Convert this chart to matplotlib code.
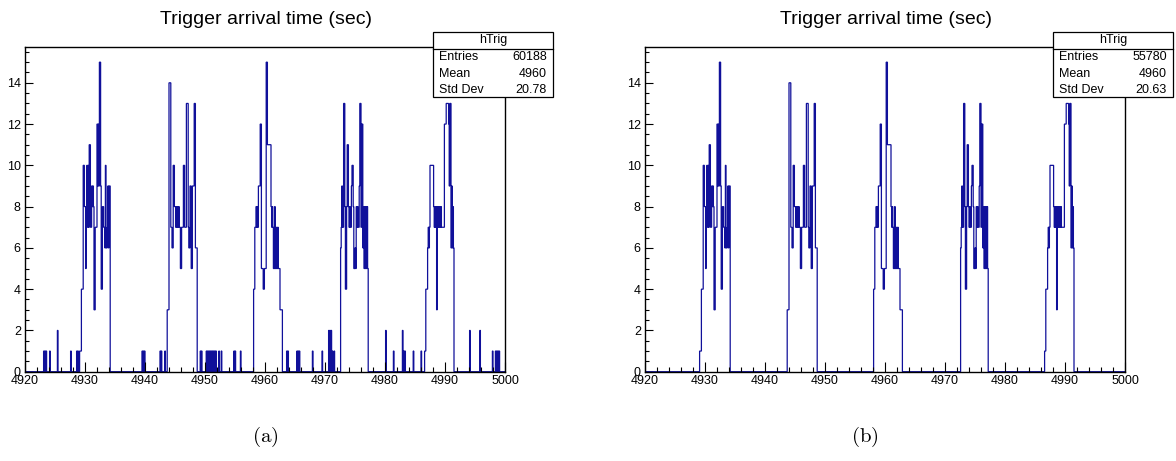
import numpy as np
import matplotlib
matplotlib.use("Agg")
import matplotlib.pyplot as plt
from matplotlib.patches import Rectangle
from matplotlib.ticker import MultipleLocator

plt.rcParams['font.family'] = ['Liberation Sans', 'DejaVu Sans']
plt.rcParams['mathtext.fontset'] = 'cm'

# -------------------------------------------------------------------------
# Histogram data (0.1 s bins between 4920 and 5000)
# -------------------------------------------------------------------------
x_min, x_max, bin_w = 4920, 5000, 0.1

cluster_starts = [4929.1, 4943.7, 4958.1, 4972.6, 4986.6]
cluster1 = [1, 1, 1, 4, 4, 4, 10, 10, 8, 8, 5, 8, 10, 7, 10, 7, 11, 11, 7, 7, 9, 8, 9, 8, 3, 3,
            7, 7, 7, 12, 9, 12, 9, 15, 15, 9, 4, 4, 8, 8, 7, 7, 6, 10, 6, 6, 7, 9, 6, 9, 9]
cluster2 = [3, 3, 3, 14, 14, 14, 7, 7, 6, 6, 10, 10, 8, 8, 7, 8, 7, 8, 7, 8, 7, 7, 5, 5, 7, 7,
            7, 10, 10, 7, 7, 7, 13, 13, 13, 7, 6, 6, 9, 9, 5, 5, 9, 9, 9, 13, 13, 6, 6, 6]
cluster3 = [4, 4, 7, 7, 8, 7, 8, 7, 9, 9, 9, 12, 12, 5, 5, 5, 4, 4, 5, 5, 5, 15, 15, 11, 11, 11,
            11, 11, 11, 8, 7, 8, 7, 5, 5, 8, 5, 7, 5, 5, 7, 5, 5, 5, 3, 3, 3, 3]
cluster4 = [6, 7, 9, 7, 7, 13, 13, 8, 4, 4, 8, 11, 11, 8, 7, 8, 7, 7, 9, 10, 10, 8, 5, 5, 6, 5,
            8, 7, 8, 7, 7, 9, 13, 13, 7, 12, 12, 6, 8, 5, 8, 5, 8, 5, 8, 5]
cluster5 = [1, 1, 4, 4, 4, 6, 7, 6, 7, 10, 10, 10, 10, 10, 10, 8, 7, 8, 7, 8, 3, 8, 7, 8, 7, 8,
            7, 8, 7, 7, 7, 7, 7, 12, 12, 12, 13, 13, 13, 13, 12, 9, 13, 13, 6, 9, 6, 8, 6]
clusters = [cluster1, cluster2, cluster3, cluster4, cluster5]

# sparse background triggers, only in (a)
noise_t = [4923.1, 4923.3, 4923.5, 4924.1, 4925.4, 4927.6, 4928.6, 4928.8,
           4939.5, 4939.7, 4939.9, 4942.5, 4942.7, 4943.3,
           4949.2, 4949.4, 4950.2, 4950.4, 4950.6, 4950.7, 4950.9, 4951.1, 4951.2, 4951.4,
           4951.6, 4951.8, 4952.3, 4952.7, 4954.8, 4955.0, 4955.9,
           4963.6, 4963.8, 4965.3, 4965.5, 4965.7, 4967.9, 4969.5, 4970.6, 4970.8, 4971.0,
           4971.2, 4971.5,
           4980.1, 4981.4, 4982.9, 4983.1, 4983.3, 4984.7, 4986.0,
           4994.1, 4995.8, 4997.9, 4998.4, 4998.6, 4998.8, 4999.0]
noise_n = [1, 1, 1, 1, 2, 1, 1, 1,
           1, 1, 1, 1, 1, 1,
           1, 1, 1, 1, 1, 1, 1, 1, 1, 1, 1, 1, 1, 1, 1, 1, 1,
           1, 1, 1, 1, 1, 1, 1, 2, 2, 2, 1, 1,
           2, 1, 2, 1, 1, 1, 1,
           2, 2, 1, 1, 1, 1, 1]

stat_labels = ["Entries", "Mean", "Std Dev"]
stats_a = ["60188", "4960", "20.78"]
stats_b = ["55780", "4960", "20.63"]

x_ticks = [4920, 4930, 4940, 4950, 4960, 4970, 4980, 4990, 5000]
y_ticks = [0, 2, 4, 6, 8, 10, 12, 14]

# -------------------------------------------------------------------------
# Build the bin contents
# -------------------------------------------------------------------------
n_bins = int(round((x_max - x_min) / bin_w))
edges = np.linspace(x_min, x_max, n_bins + 1)


def to_bin(t):
    return int(round((t - x_min) / bin_w))


counts_b = np.zeros(n_bins)
for start, vals in zip(cluster_starts, clusters):
    i0 = to_bin(start)
    counts_b[i0:i0 + len(vals)] = vals

counts_a = counts_b.copy()
for t, n in zip(noise_t, noise_n):
    counts_a[to_bin(t)] = n

# -------------------------------------------------------------------------
# Plot
# -------------------------------------------------------------------------
W, H = 1176, 461
fig = plt.figure(figsize=(W / 100, H / 100), dpi=100)
line_col = "#10109a"


def px(x, y):
    return x / W, 1 - y / H


def stats_box(x0, values):
    x1 = x0 + 120
    y0, y1, yh = 32, 97, 49
    l, b = px(x0, y1)
    r, t = px(x1, y0)
    fig.add_artist(Rectangle((l, b), r - l, t - b, transform=fig.transFigure,
                             facecolor="white", edgecolor="black", lw=0.9, zorder=5))
    hl, hy = px(x0, yh)
    fig.add_artist(plt.Line2D([l, r], [hy, hy], transform=fig.transFigure,
                              color="black", lw=0.9, zorder=6))
    cx, cy = px(x0 + 60, 40.5)
    fig.text(cx, cy, "hTrig", ha="center", va="center", fontsize=9, zorder=7)
    for k, (lab, val) in enumerate(zip(stat_labels, values)):
        yy = 57 + 16.5 * k
        lx, ly = px(x0 + 6, yy)
        rx, _ = px(x1 - 6, yy)
        fig.text(lx, ly, lab, ha="left", va="center", fontsize=9, zorder=7)
        fig.text(rx, ly, val, ha="right", va="center", fontsize=9, zorder=7)


panels = [(25, counts_a, stats_a, "(a)", 265), (645, counts_b, stats_b, "(b)", 865)]
for left_px, counts, stats, cap, cap_x in panels:
    l, b = px(left_px, 371.7)
    _, t = px(left_px, 46.7)
    ax = fig.add_axes([l, b, 480 / W, t - b])
    ax.stairs(counts, edges, color=line_col, lw=0.9)
    ax.set_xlim(x_min, x_max)
    ax.set_ylim(0, 15.75)
    ax.set_xticks(x_ticks)
    ax.set_yticks(y_ticks)
    ax.xaxis.set_minor_locator(MultipleLocator(2))
    ax.yaxis.set_minor_locator(MultipleLocator(0.5))
    ax.tick_params(axis="x", which="major", direction="in", length=7, width=0.8,
                   labelsize=9, pad=2.5, top=False)
    ax.tick_params(axis="x", which="minor", direction="in", length=3.6, width=0.8, top=False)
    ax.tick_params(axis="y", which="major", direction="in", length=5.8, width=0.8,
                   labelsize=9, pad=3, right=False)
    ax.tick_params(axis="y", which="minor", direction="in", length=2.9, width=0.8, right=False)
    for sp in ax.spines.values():
        sp.set_linewidth(1.0)
    tx, ty = px(left_px + 241, 20)
    fig.text(tx, ty, "Trigger arrival time (sec)", ha="center", va="center", fontsize=14)
    stats_box(left_px + 408, stats)
    cx, cy = px(cap_x, 437)
    fig.text(cx, cy, r"$\mathrm{" + cap + "}$", ha="center", va="center", fontsize=15)

fig.savefig("out.png", dpi=100)
